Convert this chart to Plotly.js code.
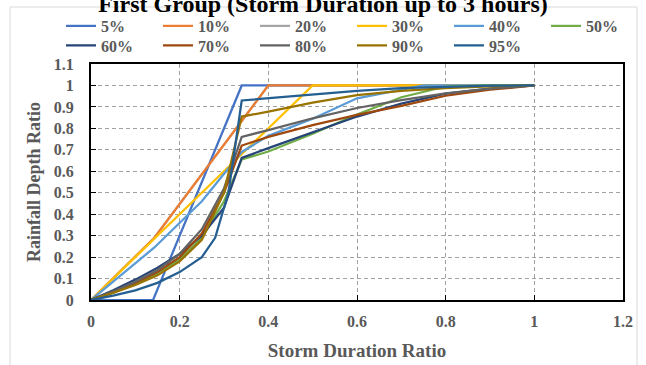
<!DOCTYPE html>
<html>
<head>
<meta charset="utf-8">
<script src="https://cdn.plot.ly/plotly-3.0.1.min.js"></script>
<style>html,body{margin:0;padding:0;background:#fff;}#chart{width:646px;height:365px;}</style>
</head>
<body>
<div id="chart"></div>
<script>
// Series names
const seriesNames = ['5%', '10%', '20%', '30%', '40%', '50%', '60%', '70%', '80%', '90%', '95%'];
const seriesColors = ['#4472C4', '#ED7D31', '#A5A5A5', '#FFC000', '#5B9BD5', '#70AD47', '#264478', '#9E480E', '#636363', '#997300', '#255E91'];

// Storm duration ratio (x) and rainfall depth ratio (y) for each percentile
const x05 = [0, 0.14, 0.34, 1];
const y05 = [0, 0, 1, 1];
const x10 = [0, 0.143, 0.4, 1];
const y10 = [0, 0.29, 1, 1];
const x20 = [0, 0.143, 0.4, 1];
const y20 = [0, 0.29, 1, 1];
const x30 = [0, 0.5, 1];
const y30 = [0, 1, 1];
const x40 = [0, 0.143, 0.25, 0.34, 0.4, 0.5, 0.6, 0.75, 1];
const y40 = [0, 0.245, 0.46, 0.69, 0.765, 0.845, 0.94, 1, 1];
const xS = [0, 0.05, 0.1, 0.15, 0.2, 0.25, 0.3, 0.34, 0.4, 0.5, 0.6, 0.7, 0.8, 0.9, 1];
const y50 = [0, 0.035, 0.075, 0.125, 0.19, 0.29, 0.46, 0.655, 0.692, 0.775, 0.865, 0.945, 0.995, 1, 1];
const y60 = [0, 0.045, 0.095, 0.15, 0.215, 0.3, 0.43, 0.662, 0.708, 0.78, 0.855, 0.915, 0.962, 0.985, 1];
const y70 = [0, 0.038, 0.08, 0.13, 0.2, 0.31, 0.5, 0.72, 0.76, 0.815, 0.863, 0.905, 0.952, 0.98, 1];
const y80 = [0, 0.04, 0.085, 0.14, 0.215, 0.33, 0.52, 0.76, 0.792, 0.847, 0.895, 0.932, 0.963, 0.985, 1];
const y90 = [0, 0.033, 0.07, 0.115, 0.18, 0.28, 0.5, 0.855, 0.878, 0.92, 0.955, 0.975, 0.988, 0.996, 1];
const x95 = [0, 0.05, 0.1, 0.15, 0.2, 0.25, 0.28, 0.31, 0.34, 0.4, 0.5, 0.6, 0.7, 0.8, 0.9, 1];
const y95 = [0, 0.02, 0.045, 0.08, 0.13, 0.2, 0.29, 0.5, 0.93, 0.94, 0.96, 0.975, 0.988, 0.995, 0.999, 1];

// Axis ticks
const xTicks = [0, 0.2, 0.4, 0.6, 0.8, 1, 1.2];
const xTickLabels = ['0', '0.2', '0.4', '0.6', '0.8', '1', '1.2'];
const yTicks = [0, 0.1, 0.2, 0.3, 0.4, 0.5, 0.6, 0.7, 0.8, 0.9, 1, 1.1];
const yTickLabels = ['0', '0.1', '0.2', '0.3', '0.4', '0.5', '0.6', '0.7', '0.8', '0.9', '1', '1.1'];

const xs = [x05, x10, x20, x30, x40, xS, xS, xS, xS, xS, x95];
const ys = [y05, y10, y20, y30, y40, y50, y60, y70, y80, y90, y95];
// drawing order (20% lies beneath 10%)
const drawOrder = [2, 0, 1, 3, 4, 5, 6, 7, 8, 9, 10];

const FONT = 'Liberation Serif, Times New Roman, serif';
const data = drawOrder.map(i => ({
  type: 'scatter', mode: 'lines',
  x: xs[i], y: ys[i], name: seriesNames[i],
  legend: i < 6 ? 'legend' : 'legend2',
  legendrank: i + 1,
  line: {color: seriesColors[i], width: 2.25}
}));

const L = 91, R = 623, T = 64, B = 300;
const pw = R - L, ph = B - T;
const px = v => (v - L) / pw;
const py = v => (B - v) / ph;

const legendBase = {
  orientation: 'h', x: px(61), xanchor: 'left', yanchor: 'middle',
  entrywidth: 52, entrywidthmode: 'pixels',
  font: {family: FONT, size: 16, color: '#595959', weight: 'bold'},
  bgcolor: 'rgba(0,0,0,0)', traceorder: 'normal', borderwidth: 0
};

const layout = {
  width: 646, height: 365,
  margin: {l: L, r: 646 - R, t: T, b: 365 - B, autoexpand: false},
  paper_bgcolor: '#ffffff', plot_bgcolor: '#ffffff',
  font: {family: FONT, color: '#595959', size: 16, weight: 'bold'},
  title: {
    text: 'First Group (Storm Duration up to 3 hours)',
    font: {family: FONT, size: 24, color: '#000000', weight: 'bold'},
    x: 0.5, xanchor: 'center', y: 1 - 12 / 365, yanchor: 'bottom', yref: 'container'
  },
  showlegend: true,
  legend: Object.assign({}, legendBase, {y: py(26)}),
  legend2: Object.assign({}, legendBase, {y: py(45.5)}),
  xaxis: {
    range: [0, 1.2], tickvals: xTicks, ticktext: xTickLabels,
    showgrid: true, gridcolor: '#A0A0A0', griddash: '4px,3px', gridwidth: 1,
    zeroline: false, showline: true, linecolor: '#000000', linewidth: 2, mirror: true,
    ticks: 'inside', ticklen: 5, tickcolor: '#000000', tickwidth: 1,
    ticklabelstandoff: 6,
    tickfont: {family: FONT, size: 16, color: '#595959', weight: 'bold'},
    title: {text: 'Storm Duration Ratio', font: {family: FONT, size: 19, color: '#595959', weight: 'bold'}, standoff: 14}
  },
  yaxis: {
    range: [0, 1.1], tickvals: yTicks, ticktext: yTickLabels,
    showgrid: true, gridcolor: '#A0A0A0', griddash: '4px,3px', gridwidth: 1,
    zeroline: false, showline: true, linecolor: '#000000', linewidth: 2, mirror: true,
    ticks: 'inside', ticklen: 5, tickcolor: '#000000', tickwidth: 1,
    ticklabelstandoff: 12,
    tickfont: {family: FONT, size: 16, color: '#595959', weight: 'bold'},
    title: {text: 'Rainfall Depth Ratio', font: {family: FONT, size: 18, color: '#595959', weight: 'bold'}, standoff: 8}
  },
  shapes: [{
    type: 'rect', xref: 'paper', yref: 'paper',
    x0: px(10), x1: px(637), y0: py(372), y1: py(7),
    line: {color: '#D9D9D9', width: 1}, fillcolor: 'rgba(0,0,0,0)', layer: 'below'
  }]
};

Plotly.newPlot('chart', data, layout, {staticPlot: true, displayModeBar: false});
</script>
</body>
</html>
